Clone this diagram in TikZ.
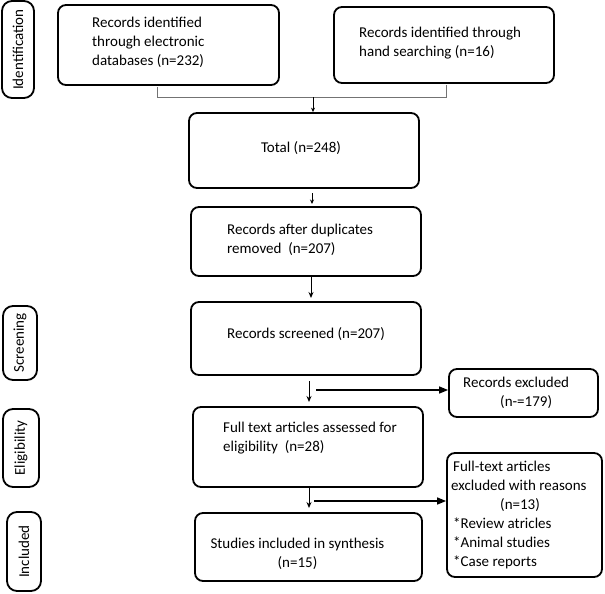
\documentclass[tikz,border=0pt]{standalone}
\usepackage{fontspec}
\setmainfont{Carlito}
\usetikzlibrary{arrows.meta}
\begin{document}
\begin{tikzpicture}[x=1pt,y=-1pt,
  box/.style={draw, line width=1.8pt, rounded corners=8pt, inner sep=0pt},
  sidebox/.style={draw, line width=1.8pt, rounded corners=10pt, inner sep=0pt, font=\fontsize{15}{19}\selectfont},
  txt/.style={inner sep=0pt, align=left, font=\fontsize{15}{19}\selectfont},
  ctxt/.style={inner sep=0pt, align=center, font=\fontsize{15}{19}\selectfont},
  bracket/.style={draw=black!55, line width=0.7pt},
  thinarrow/.style={line width=0.8pt, -{Stealth[length=4.5pt,width=4pt]}},
  midarrow/.style={line width=1pt, -{Stealth[length=6pt,width=5pt]}},
  bigarrow/.style={line width=1.4pt, -{Triangle[length=9pt,width=7pt]}}]
\useasboundingbox (0,0) rectangle (605,594);
% side labels
\node[sidebox, minimum width=32, minimum height=97] (sid) at (18,49.5) {\rotatebox{90}{Identification}};
\node[sidebox, minimum width=34, minimum height=74] (sscr) at (20,343) {\rotatebox{90}{Screening}};
\node[sidebox, minimum width=36, minimum height=78] (selig) at (21,448) {\rotatebox{90}{Eligibility}};
\node[sidebox, minimum width=34, minimum height=79] (sinc) at (24,551.5) {\rotatebox{90}{Included}};
% boxes
\node[box, minimum width=221, minimum height=80] (b1) at (168.5,45) {};
\node[box, minimum width=220, minimum height=76] (b2) at (444,45) {};
\node[box, minimum width=230, minimum height=75] (tot) at (304,150.5) {};
\node[box, minimum width=230, minimum height=69] (dup) at (306,241.5) {};
\node[box, minimum width=230, minimum height=73] (scr) at (306,338.5) {};
\node[box, minimum width=149, minimum height=48] (exc) at (523.5,393) {};
\node[box, minimum width=230, minimum height=80] (ful) at (308,447) {};
\node[box, minimum width=155, minimum height=124] (fte) at (524.5,515) {};
\node[box, minimum width=227, minimum height=68] (stu) at (308.5,547) {};
% texts
\node[txt, anchor=west] (tb1) at (92,42) {Records identified\\through electronic\\databases (n=232)};
\node[txt, anchor=west] (tb2) at (359,43) {Records identified through\\hand searching (n=16)};
\node[ctxt] (ttot) at (301,148) {Total (n=248)};
\node[txt, anchor=west] (tdup) at (227,239.5) {Records after duplicates\\removed\ \ (n=207)};
\node[txt, anchor=west] (tscr) at (227,334) {Records screened (n=207)};
\node[txt, anchor=west] (texc) at (463,392.5) {Records excluded\\\hspace*{37pt}(n-=179)};
\node[txt, anchor=west] (tful) at (223,438.5) {Full text articles assessed for\\eligibility\ \ (n=28)};
\node[txt, anchor=west] (tfte) at (451,514.5) {\hspace*{2pt}Full-text articles\\excluded with reasons\\\hspace*{49pt}(n=13)\\\hspace*{2pt}*Review atricles\\\hspace*{2pt}*Animal studies\\\hspace*{2pt}*Case reports};
\node[ctxt] (tstu) at (297.5,554) {Studies included in synthesis\\(n=15)};
% bracket joining the two sources
\coordinate (j1a) at (157,87);
\coordinate (j1b) at (157,97);
\coordinate (j2a) at (446,85);
\coordinate (j2b) at (446,97);
\coordinate (jm) at (313,97);
\draw[bracket] (j1a) -- (j1b) -- (j2b) -- (j2a);
\draw[thinarrow] (jm) -- (jm |- tot.north);
% vertical flow
\coordinate (a1s) at (312,193);
\coordinate (a1e) at (312,204);
\draw[thinarrow] (a1s) -- (a1e);
\coordinate (a2s) at (311,277);
\coordinate (a2e) at (311,298);
\draw[midarrow] (a2s) -- (a2e);
\coordinate (a3s) at (309,381);
\coordinate (a3e) at (309,402);
\draw[midarrow] (a3s) -- (a3e);
\coordinate (a4s) at (309,487);
\coordinate (a4e) at (309,508);
\draw[midarrow] (a4s) -- (a4e);
% side arrows
\coordinate (h1s) at (316,390);
\draw[bigarrow] (h1s) -- (h1s -| exc.west) ;
\coordinate (h2s) at (314,501);
\draw[bigarrow] (h2s) -- (h2s -| fte.west);
\end{tikzpicture}
\end{document}
